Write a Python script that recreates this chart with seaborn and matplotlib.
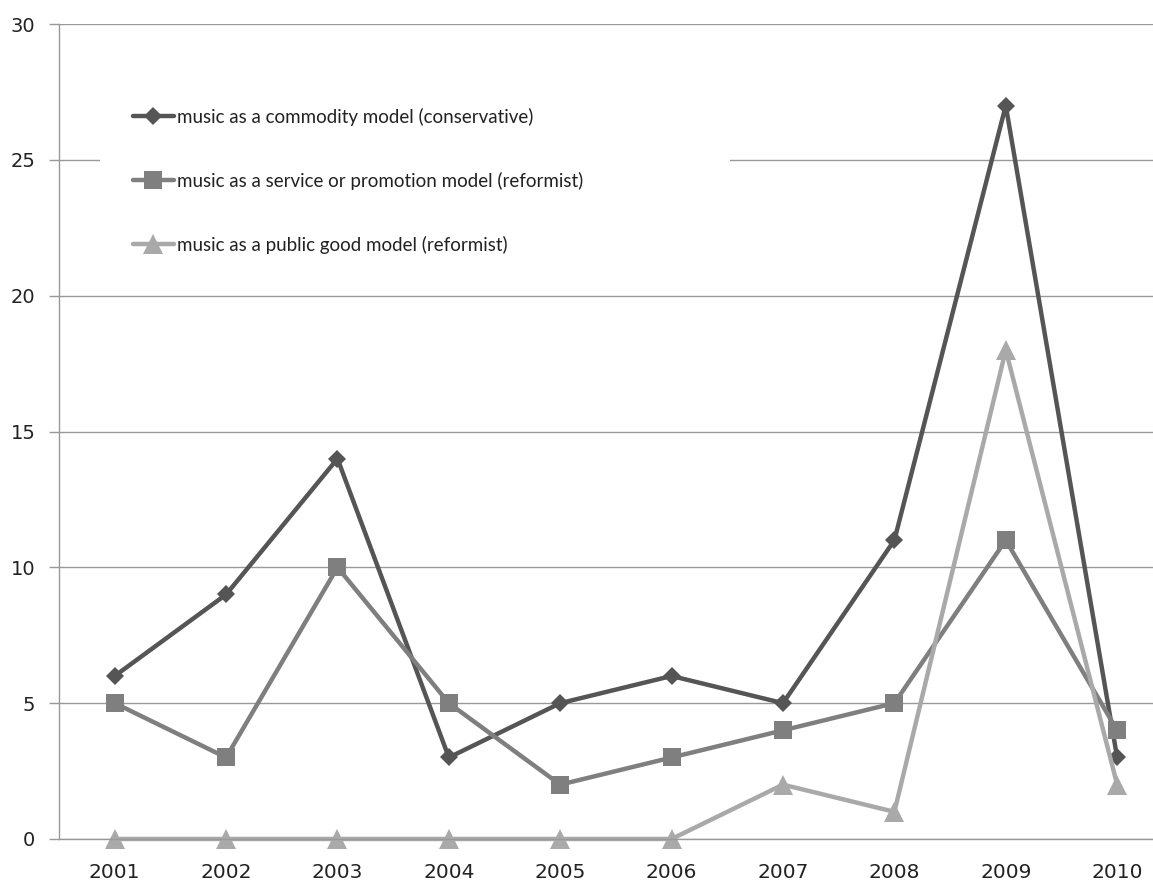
import matplotlib
matplotlib.use("Agg")
import matplotlib.pyplot as plt
import numpy as np
import pandas as pd
import seaborn as sns

years = ["2001", "2002", "2003", "2004", "2005", "2006", "2007", "2008", "2009", "2010"]
commodity = [6, 9, 14, 3, 5, 6, 5, 11, 27, 3]
service = [5, 3, 10, 5, 2, 3, 4, 5, 11, 4]
public_good = [0, 0, 0, 0, 0, 0, 2, 1, 18, 2]

series_names = [
    "music as a commodity model (conservative)",
    "music as a service or promotion model (reformist)",
    "music as a public good model (reformist)",
]
y_ticks = [0, 5, 10, 15, 20, 25, 30]

sns.set_theme(style="white")
plt.rcParams["font.family"] = ["DejaVu Sans"]

df = pd.DataFrame({
    "year": years * 3,
    "pos": list(range(len(years))) * 3,
    "value": commodity + service + public_good,
    "series": [series_names[0]] * len(years) + [series_names[1]] * len(years)
              + [series_names[2]] * len(years),
})

colors = {series_names[0]: "#555555", series_names[1]: "#7f7f7f", series_names[2]: "#a9a9a9"}
markers = {series_names[0]: "D", series_names[1]: "s", series_names[2]: "^"}
msizes = {series_names[0]: 9, series_names[1]: 13, series_names[2]: 14}

fig = plt.figure(figsize=(11.53, 8.81), dpi=100)
ax = fig.add_axes([0.0512, 0.0477, 0.966, 0.925])

for name in series_names:
    sub = df[df["series"] == name]
    sns.lineplot(data=sub, x="pos", y="value", ax=ax, color=colors[name],
                 marker=markers[name], markersize=msizes[name], markeredgewidth=0,
                 linewidth=3.2, label=name, legend=False, clip_on=False)

ax.set_xlim(-0.5, len(years) - 0.5)
ax.set_ylim(0, 30)
ax.set_yticks(y_ticks)
ax.set_xticks(range(len(years)))
ax.set_xticklabels(years)
ax.set_xticks(np.arange(-0.5, len(years), 1.0), minor=True)
ax.tick_params(axis="x", which="major", length=0, pad=17, labelsize=14.5, labelcolor="#222222")
ax.tick_params(axis="x", which="minor", length=6, width=1, color="#999999", direction="out")
ax.tick_params(axis="y", which="major", length=7, width=1, color="#999999", direction="out",
               pad=10, labelsize=14, labelcolor="#222222", left=True)
ax.set_xlabel("")
ax.set_ylabel("")

ax.yaxis.grid(True, color="#999999", linewidth=1)
ax.xaxis.grid(False)
ax.set_axisbelow(True)
for side in ["top", "right"]:
    ax.spines[side].set_visible(False)
for side in ["left", "bottom"]:
    ax.spines[side].set_color("#999999")
    ax.spines[side].set_linewidth(1)

leg = ax.legend(loc="upper left", bbox_to_anchor=(0.0368, 0.9374, 0.5655, 0.0),
                mode="expand", frameon=True, prop={"family": ["Lato", "DejaVu Sans"], "size": 13.5},
                labelspacing=2.45, handlelength=2.2, handletextpad=0.15,
                borderpad=1.75, borderaxespad=0)
leg.get_frame().set_facecolor("white")
leg.get_frame().set_edgecolor("none")
leg.get_frame().set_alpha(1)
for t in leg.get_texts():
    t.set_color("#222222")

fig.savefig("out.png", dpi=100)
